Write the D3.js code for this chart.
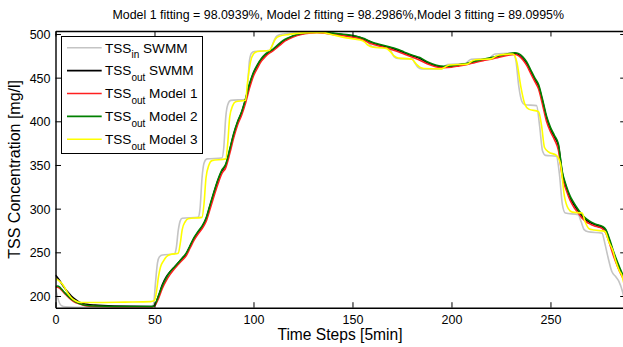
<!DOCTYPE html>
<html><head><meta charset="utf-8">
<script src="https://cdn.jsdelivr.net/npm/d3@7"></script>
<style>
html,body{margin:0;padding:0;background:#fff;}
svg{display:block;font-family:"Liberation Sans",Arial,Helvetica,sans-serif;}
</style></head>
<body>
<svg id="chart" width="623" height="347"></svg>
<script>
const titleText = "Model 1 fitting = 98.0939%, Model 2 fitting = 98.2986%,Model 3 fitting = 89.0995%";
const xTicks = [0, 50, 100, 150, 200, 250];
const yTicks = [200, 250, 300, 350, 400, 450, 500];
const seriesNames = [["TSS","in"," SWMM"],["TSS","out"," SWMM"],["TSS","out"," Model 1"],["TSS","out"," Model 2"],["TSS","out"," Model 3"]];
const seriesColors = ["#c4c4c4","#000000","#ff2020","#008000","#ffff00"];

const tssIn = [[0,209],[1,199],[2,192],[3,189],[5,187.5],[10,187],[48,187],[49.5,190],[50.5,215],[51.5,238],[52.5,245],[54,247],[60,248],[61,255],[62,275],[63,286],[64,289],[72,290],[73,300],[74,335],[75,352],[76.5,357],[84,358],[85,370],[86,405],[87,419],[88.5,424],[96,425],[97,440],[98,470],[99,478],[100.5,480],[108,481],[109,484],[110.5,493],[112,498],[115,500],[125,502],[132,502.5],[138,500],[148,497],[156,495],[157.5,492],[159,487],[161,485],[168,484],[169.5,480],[171,474],[173,472],[180,471.5],[181.5,467],[183,462],[185,460],[195,460],[196.5,463],[198,465],[207,466],[208.5,469],[210,471],[219,472],[220.5,475],[222,477],[231,478],[232.5,470],[234,440],[235.5,423],[237,419],[243,418],[244.5,395],[246,366],[247.5,361],[253,360],[254.5,340],[256,305],[257.5,295],[264,293],[265.5,285],[267,276],[269,273.5],[276,272],[277.5,260],[279,245],[281,228],[283,222],[284.5,217],[286.5,204],[287,199]];

const tssOutSwmm = [[0,224],[2,218],[4,211],[6,205],[8,200],[10,196],[12,193],[14,191.5],[16,190.5],[20,189.5],[30,188.5],[49,188],[50,189],[52,200],[54,213],[56,222],[58,228],[60,233],[62,238],[64,243],[66,248],[68,257],[70,266],[72,273],[74,279],[76,288],[78,303],[80,318],[82,332],[84,343],[86,350],[88,367],[90,385],[92,399],[94,410],[96,425],[98,442],[100,455],[102,464],[104,471],[106,476],[108,479],[110,482],[112,486],[114,490],[116,493],[118,495.5],[120,497.5],[124,500],[128,501.5],[132,502],[136,501.5],[140,500.5],[144,499.5],[148,498.5],[152,497],[156,494],[160,490],[164,487],[168,485],[172,482],[176,478.5],[180,475],[184,472],[188,467],[192,463.5],[196,462.5],[200,463],[204,464.5],[208,466],[212,468.5],[216,470.5],[220,472],[224,474.5],[228,476.5],[232,477.5],[234,476],[236,472],[238,466],[240,457],[242,448],[244,440],[246,423],[248,404],[250,391],[252,382],[254,372],[256,340],[258,324],[260,312],[262,304],[264,297],[266,291],[268,287],[270,284],[272,282],[274,280.5],[276,279],[278,275],[280,262],[282,248],[284,236],[286,225],[287,221]];

const tssOutModel1 = [[0,210],[1,210],[2,209],[3,207],[5,202],[7,197.5],[9,194],[12,191],[15,189],[20,188],[30,187.5],[49,187.5],[50,188.5],[52,197],[54,209],[56,218],[58,225],[60,231],[62,236],[64,241],[66,246],[68,255],[70,264],[72,271],[74,277],[76,285],[78,299],[80,314],[82,328],[84,340],[86,347],[88,363],[90,381],[92,396],[94,407],[96,421],[98,438],[100,452],[102,461],[104,469],[106,474],[108,478],[110,481],[112,484.5],[114,488.5],[116,492],[118,494.5],[120,496.5],[124,499.5],[128,501],[132,501.5],[136,501],[140,499.5],[144,498.5],[148,497],[152,495.5],[156,492.5],[160,488.5],[164,486],[168,483.5],[172,480.5],[176,477],[180,473.5],[184,470],[188,465.5],[192,462.5],[196,461.5],[200,462],[204,463.5],[208,465],[212,467.5],[216,469.5],[220,471],[224,473.5],[228,475.5],[232,476.5],[234,475],[236,470.5],[238,464],[240,455],[242,446],[244,437],[246,419],[248,400],[250,388],[252,379],[254,367],[256,336],[258,321],[260,309],[262,301],[264,295],[266,289],[268,285],[270,282.5],[272,280.5],[274,279],[276,277.5],[278,272],[280,259],[282,245],[284,233],[286,223],[287,219]];

const tssOutModel2 = [[0,211],[1,211.5],[2,210.5],[3,208],[5,203],[7,198.5],[9,195],[12,191.5],[15,189.5],[20,188.5],[30,188],[49,188],[50,189.5],[52,200],[54,212],[56,221],[58,228],[60,233],[62,238],[64,243.5],[66,249],[68,258],[70,267],[72,274],[74,280],[76,289],[78,304],[80,319],[82,333],[84,344],[86,351],[88,368],[90,386],[92,400],[94,411],[96,426],[98,443],[100,456],[102,465],[104,472],[106,477],[108,480],[110,483],[112,487],[114,491],[116,494],[118,496],[120,498],[124,500.5],[128,502],[132,502.5],[136,502],[140,501],[144,500],[148,499],[152,497.5],[156,494.5],[160,490.5],[164,488],[168,485.5],[172,483],[176,479.5],[180,476],[184,473],[188,468],[192,464.5],[196,463],[200,463.5],[204,465],[208,466.5],[212,469],[216,471],[220,473],[224,475],[228,477],[232,478.5],[234,477.5],[236,474],[238,468],[240,459],[242,450],[244,442],[246,425],[248,406],[250,393],[252,384],[254,374],[256,342],[258,326],[260,314],[262,306],[264,299],[266,293],[268,288.5],[270,285.5],[272,283],[274,281.5],[276,280],[278,276],[280,264],[282,250],[284,238],[286,227],[287,222]];

const tssOutModel3 = [[0,220],[2,217],[4,212],[6,204],[8,198],[10,194.5],[13,192.5],[20,192.5],[35,193],[48,193.5],[50,195],[51,205],[52,222],[53,233],[54.5,240],[56,245],[58,247.5],[62,249],[63,260],[64,276],[65.5,285],[67,288.5],[74,290],[75,305],[76,335],[77.5,350],[79,355],[86,357],[87,375],[88,405],[89.5,418],[91,422.5],[96,424],[97,445],[98.5,468],[100,477],[102,480],[108,481],[109.5,487],[111,494],[113,497.5],[118,499.5],[127,501.5],[135,501.5],[140,499],[147,495.5],[154,493],[156,491],[158,487],[160,485],[167,483.5],[169,480],[171,475],[173,472.5],[180,471],[182,466],[184,462],[186,460.5],[195,460],[197,462.5],[199,464.5],[208,465.5],[210,468.5],[212,470.5],[220,471.5],[222,474],[224,476],[231,477],[233,468],[235,440],[237,420],[239,414],[244,411],[245.5,395],[247,370],[249,365],[253,361],[255,352],[257,315],[259,300],[261,296],[266,295],[267.5,285],[269.5,277],[272,275.5],[277.5,274],[279.5,262],[281.5,252],[283,240],[285,228],[286,224],[287,215]];

const allSeries = [tssIn, tssOutSwmm, tssOutModel1, tssOutModel2, tssOutModel3];

const svg = d3.select("#chart");
const L = 55.5, R = 625.7, T = 31, B = 307.7;
const x = d3.scaleLinear().domain([0, 288]).range([L, R]);
const y = d3.scaleLinear().domain([186.6, 503.4]).range([B, T]);

svg.append("defs").append("clipPath").attr("id","clip")
  .append("rect").attr("x",L).attr("y",T).attr("width",R-L).attr("height",B-T);

const line = d3.line().x(d=>x(d[0])).y(d=>y(d[1])).curve(d3.curveMonotoneX);
const g = svg.append("g").attr("clip-path","url(#clip)");
allSeries.forEach((s,i)=>{
  g.append("path").datum(s).attr("d",line).attr("fill","none")
   .attr("stroke",seriesColors[i]).attr("stroke-width",1.6).attr("stroke-linejoin","round");
});

// axes (MATLAB style, ticks inside)
const tl = 5.5;
const axB = svg.append("g").attr("transform",`translate(0,${B})`)
  .call(d3.axisBottom(x).tickValues(xTicks).tickSizeInner(-tl).tickSizeOuter(0).tickPadding(7));
const axT = svg.append("g").attr("transform",`translate(0,${T})`)
  .call(d3.axisTop(x).tickValues(xTicks).tickSizeInner(-tl).tickSizeOuter(0).tickFormat(""));
const axL = svg.append("g").attr("transform",`translate(${L},0)`)
  .call(d3.axisLeft(y).tickValues(yTicks).tickSizeInner(-tl).tickSizeOuter(0).tickPadding(5));
const axR = svg.append("g").attr("transform",`translate(${R},0)`)
  .call(d3.axisRight(y).tickValues(yTicks).tickSizeInner(-tl).tickSizeOuter(0).tickFormat(""));
[axB,axT,axL,axR].forEach(a=>{
  a.select(".domain").attr("stroke","#000").attr("stroke-width",1.4);
  a.selectAll(".tick line").attr("stroke","#000").attr("stroke-width",1);
  a.selectAll(".tick text").attr("fill","#000").attr("font-size","12.5px").attr("font-family","Liberation Sans, Arial, sans-serif");
});
axL.selectAll(".tick text").attr("dy","0.36em");

// labels
svg.append("text").attr("x",(L+621)/2).attr("y",19).attr("text-anchor","middle")
  .attr("font-size","12.4px").text(titleText);
svg.append("text").attr("x",340).attr("y",340).attr("text-anchor","middle")
  .attr("font-size","15.6px").text("Time Steps [5min]");
svg.append("text").attr("transform",`translate(20,${(T+B)/2}) rotate(-90)`).attr("text-anchor","middle")
  .attr("font-size","16px").text("TSS Concentration [mg/l]");

// legend
const lg = svg.append("g");
lg.append("rect").attr("x",61.5).attr("y",36.5).attr("width",141).attr("height",117)
  .attr("fill","#fff").attr("stroke","#000").attr("stroke-width",1);
seriesNames.forEach((n,i)=>{
  const ly = 47.7 + i*22.9;
  lg.append("line").attr("x1",67).attr("x2",101.7).attr("y1",ly).attr("y2",ly)
    .attr("stroke",seriesColors[i]).attr("stroke-width",1.6);
  const t = lg.append("text").attr("x",105).attr("y",ly+4.8).attr("font-size","13.6px");
  t.append("tspan").text(n[0]);
  t.append("tspan").attr("dy",5.5).attr("font-size","10px").text(n[1]);
  t.append("tspan").attr("dy",-5.5).text(n[2]);
});
</script>
</body></html>
